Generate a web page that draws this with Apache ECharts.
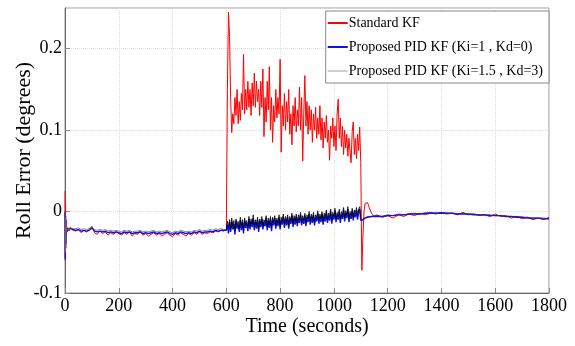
<!DOCTYPE html>
<html>
<head>
<meta charset="utf-8">
<script src="https://cdn.jsdelivr.net/npm/echarts@6/dist/echarts.min.js"></script>
<style>
  html, body { margin: 0; padding: 0; background: #fff; }
  #chart { width: 575px; height: 346px; }
</style>
</head>
<body>
<div id="chart"></div>
<script>
// sample times (seconds), split in three stretches
const timeA = [0, 1, 2, 3, 4, 5, 6, 8, 10, 15, 20, 25, 30, 40, 50, 60, 70, 80, 90, 100,
  110, 120, 130, 140, 150, 160, 170, 180, 190, 200,
  210, 220, 230, 240, 250, 260, 270, 280, 290, 300,
  310, 320, 330, 340, 350, 360, 370, 380, 390, 400,
  410, 420, 430, 440, 450, 460, 470, 480, 490, 500,
  510, 520, 530, 540, 550, 560, 570, 580, 590]
const timeB = [600, 604, 608, 612, 616, 620, 624, 628, 632, 636,
  640, 644, 648, 652, 656, 660, 664, 668, 672, 676,
  680, 684, 688, 692, 696, 700, 704, 708, 712, 716,
  720, 724, 728, 732, 736, 740, 744, 748, 752, 756,
  760, 764, 768, 772, 776, 780, 784, 788, 792, 796,
  800, 804, 808, 812, 816, 820, 824, 828, 832, 836,
  840, 844, 848, 852, 856, 860, 864, 868, 872, 876,
  880, 884, 888, 892, 896, 900, 904, 908, 912, 916,
  920, 924, 928, 932, 936, 940, 944, 948, 952, 956,
  960, 964, 968, 972, 976, 980, 984, 988, 992, 996,
  1000, 1004, 1008, 1012, 1016, 1020, 1024, 1028, 1032, 1036,
  1040, 1044, 1048, 1052, 1056, 1060, 1064, 1068, 1072, 1076,
  1080, 1084, 1088, 1092, 1096, 1100]
const timeC = [1104, 1108, 1112, 1116, 1120, 1125, 1130, 1140, 1150,
  1160, 1180, 1200, 1220, 1240, 1260, 1280, 1300, 1320, 1340,
  1360, 1380, 1400, 1420, 1440, 1460, 1480, 1500, 1520, 1540,
  1560, 1580, 1600, 1620, 1640, 1660, 1680, 1700, 1720, 1740,
  1760, 1780, 1800]

// Standard KF
const redA = [0.025, -0.060, 0.010, -0.045, -0.010, -0.030, -0.018, -0.025, -0.020, -0.024, -0.019, -0.022, -0.021, -0.024, -0.022, -0.026, -0.023, -0.025, -0.022, -0.018,
  -0.026, -0.028, -0.024, -0.027, -0.025, -0.029, -0.026, -0.028, -0.025, -0.027,
  -0.029, -0.026, -0.028, -0.025, -0.030, -0.027, -0.028, -0.024, -0.029, -0.027,
  -0.030, -0.028, -0.026, -0.029, -0.027, -0.030, -0.028, -0.026, -0.029, -0.031,
  -0.027, -0.029, -0.026, -0.028, -0.030, -0.027, -0.029, -0.026, -0.028, -0.025,
  -0.028, -0.026, -0.027, -0.025, -0.026, -0.024, -0.025, -0.023, -0.024]
const redB = [-0.022, 0.150, 0.245, 0.215, 0.140, 0.097, 0.120, 0.108, 0.140, 0.118,
  0.150, 0.108, 0.135, 0.112, 0.145, 0.125, 0.193, 0.120, 0.150, 0.125,
  0.160, 0.128, 0.150, 0.118, 0.158, 0.130, 0.170, 0.128, 0.160, 0.135,
  0.150, 0.118, 0.160, 0.128, 0.175, 0.092, 0.140, 0.110, 0.160, 0.125,
  0.178, 0.100, 0.140, 0.085, 0.130, 0.110, 0.150, 0.115, 0.140, 0.120,
  0.187, 0.073, 0.130, 0.105, 0.145, 0.100, 0.135, 0.110, 0.150, 0.095,
  0.120, 0.082, 0.130, 0.105, 0.140, 0.098, 0.125, 0.105, 0.153, 0.100,
  0.140, 0.062, 0.120, 0.167, 0.105, 0.135, 0.095, 0.130, 0.100, 0.125,
  0.085, 0.120, 0.100, 0.128, 0.090, 0.115, 0.095, 0.130, 0.088, 0.115,
  0.078, 0.110, 0.090, 0.118, 0.085, 0.100, 0.063, 0.105, 0.090, 0.115,
  0.080, 0.105, 0.075, 0.120, 0.138, 0.090, 0.115, 0.080, 0.105, 0.070,
  0.100, 0.078, 0.095, 0.068, 0.090, 0.075, 0.060, 0.098, 0.110, 0.070,
  0.090, 0.065, 0.095, 0.075, 0.104, 0.060]
const redC = [-0.072, -0.030, 0.000, 0.010, 0.012, 0.011, 0.006, -0.002, -0.006,
  -0.004, -0.007, -0.005, -0.008, -0.004, -0.006, -0.003, -0.005, -0.002, -0.004,
  -0.002, -0.003, -0.001, -0.003, -0.002, -0.004, -0.001, -0.004, -0.003, -0.005,
  -0.004, -0.006, -0.003, -0.006, -0.005, -0.008, -0.006, -0.009, -0.007, -0.010,
  -0.008, -0.010, -0.007]

// Proposed PID KF (Ki=1 , Kd=0)
const blueA = [0.000, -0.058, -0.005, -0.040, -0.015, -0.028, -0.020, -0.024, -0.021, -0.023, -0.021, -0.022, -0.022, -0.023, -0.022, -0.024, -0.023, -0.024, -0.023, -0.020,
  -0.024, -0.025, -0.024, -0.025, -0.024, -0.026, -0.025, -0.026, -0.025, -0.026,
  -0.027, -0.025, -0.026, -0.025, -0.027, -0.026, -0.026, -0.025, -0.027, -0.026,
  -0.027, -0.026, -0.025, -0.027, -0.026, -0.027, -0.026, -0.025, -0.027, -0.028,
  -0.026, -0.027, -0.025, -0.026, -0.027, -0.026, -0.027, -0.025, -0.026, -0.024,
  -0.026, -0.025, -0.025, -0.024, -0.025, -0.023, -0.024, -0.023, -0.023]
const blueB = [-0.023, -0.016, -0.027, -0.013, -0.025, -0.012, -0.022, -0.015, -0.028, -0.011,
  -0.021, -0.016, -0.025, -0.010, -0.023, -0.013, -0.027, -0.011, -0.020, -0.014,
  -0.024, -0.009, -0.022, -0.012, -0.019, -0.008, -0.023, -0.013, -0.021, -0.010,
  -0.025, -0.012, -0.019, -0.009, -0.022, -0.013, -0.018, -0.008, -0.023, -0.011,
  -0.020, -0.009, -0.024, -0.010, -0.017, -0.008, -0.021, -0.011, -0.018, -0.007,
  -0.022, -0.010, -0.016, -0.006, -0.020, -0.009, -0.017, -0.007, -0.021, -0.009,
  -0.015, -0.005, -0.019, -0.008, -0.016, -0.006, -0.018, -0.007, -0.014, -0.004,
  -0.017, -0.008, -0.015, -0.005, -0.018, -0.007, -0.013, -0.003, -0.016, -0.006,
  -0.014, -0.004, -0.017, -0.007, -0.012, -0.002, -0.015, -0.006, -0.013, -0.003,
  -0.016, -0.005, -0.012, -0.001, -0.014, -0.005, -0.011, 0.000, -0.015, -0.004,
  -0.010, 0.001, -0.013, -0.004, -0.010, 0.000, -0.014, -0.003, -0.009, 0.002,
  -0.012, -0.002, -0.008, 0.003, -0.013, -0.003, -0.009, 0.001, -0.011, -0.001,
  -0.007, 0.002, -0.010, 0.000, 0.003, -0.011]
const blueC = [-0.013, -0.010, -0.009, -0.008, -0.008, -0.007, -0.007, -0.006, -0.006,
  -0.006, -0.006, -0.005, -0.005, -0.004, -0.004, -0.003, -0.003, -0.003, -0.002,
  -0.002, -0.002, -0.002, -0.002, -0.002, -0.003, -0.003, -0.003, -0.004, -0.004,
  -0.004, -0.005, -0.005, -0.005, -0.006, -0.006, -0.007, -0.007, -0.008, -0.008,
  -0.008, -0.009, -0.009]

// Proposed PID KF (Ki=1.5 , Kd=3)
const blackA = [0.000, -0.050, -0.008, -0.035, -0.015, -0.025, -0.019, -0.022, -0.020, -0.021, -0.020, -0.020, -0.021, -0.021, -0.020, -0.022, -0.021, -0.022, -0.021, -0.019,
  -0.022, -0.023, -0.022, -0.023, -0.022, -0.024, -0.023, -0.024, -0.023, -0.024,
  -0.025, -0.023, -0.024, -0.023, -0.025, -0.024, -0.024, -0.023, -0.025, -0.024,
  -0.025, -0.024, -0.023, -0.025, -0.024, -0.025, -0.024, -0.023, -0.025, -0.026,
  -0.024, -0.025, -0.023, -0.024, -0.025, -0.024, -0.025, -0.023, -0.024, -0.022,
  -0.024, -0.023, -0.023, -0.022, -0.023, -0.021, -0.022, -0.021, -0.022]
const blackB = [-0.022, -0.012, -0.020, -0.010, -0.022, -0.008, -0.018, -0.011, -0.024, -0.009,
  -0.017, -0.012, -0.021, -0.007, -0.019, -0.010, -0.023, -0.008, -0.016, -0.011,
  -0.020, -0.006, -0.018, -0.009, -0.015, -0.004, -0.019, -0.010, -0.017, -0.007,
  -0.021, -0.009, -0.015, -0.006, -0.018, -0.010, -0.014, -0.005, -0.019, -0.008,
  -0.016, -0.006, -0.020, -0.007, -0.013, -0.005, -0.017, -0.008, -0.014, -0.004,
  -0.018, -0.007, -0.012, -0.003, -0.016, -0.006, -0.013, -0.004, -0.017, -0.006,
  -0.011, -0.002, -0.015, -0.005, -0.012, -0.003, -0.014, -0.004, -0.010, -0.001,
  -0.013, -0.005, -0.011, -0.002, -0.014, -0.004, -0.009, 0.000, -0.012, -0.003,
  -0.010, -0.001, -0.013, -0.004, -0.008, 0.001, -0.011, -0.003, -0.009, 0.000,
  -0.012, -0.002, -0.008, 0.002, -0.010, -0.002, -0.007, 0.003, -0.011, -0.001,
  -0.006, 0.004, -0.009, -0.001, -0.006, 0.003, -0.010, 0.000, -0.005, 0.005,
  -0.008, 0.001, -0.004, 0.006, -0.009, 0.000, -0.005, 0.004, -0.007, 0.002,
  -0.003, 0.005, -0.006, 0.003, 0.006, -0.008]
const blackC = [-0.011, -0.009, -0.008, -0.008, -0.007, -0.007, -0.006, -0.006, -0.005,
  -0.005, -0.006, -0.004, -0.005, -0.003, -0.004, -0.003, -0.002, -0.003, -0.002,
  -0.001, -0.002, -0.001, -0.002, -0.002, -0.003, -0.002, -0.003, -0.003, -0.004,
  -0.004, -0.004, -0.005, -0.005, -0.006, -0.006, -0.006, -0.007, -0.007, -0.008,
  -0.008, -0.008, -0.009]

const seriesNames = ['Standard KF', 'Proposed PID KF (Ki=1 , Kd=0)', 'Proposed PID KF (Ki=1.5 , Kd=3)']
const xTicks = [0, 200, 400, 600, 800, 1000, 1200, 1400, 1600, 1800]

const time = timeA.concat(timeB, timeC)

function zip(values) {
  return time.map((t, i) => [t, values[i]])
}

const font = 'Liberation Serif, Times New Roman, serif'

const chart = echarts.init(document.getElementById('chart'))
chart.setOption({
  animation: false,
  backgroundColor: '#fff',
  grid: {
    left: 65,
    right: 26,
    top: 8,
    bottom: 53,
    outerBoundsMode: 'none',
    containLabel: false,
    show: true,
    borderColor: '#9a9a9a',
    borderWidth: 1
  },
  legend: {
    orient: 'vertical',
    right: 26,
    top: 11,
    align: 'left',
    icon: 'rect',
    backgroundColor: '#fff',
    borderColor: '#888',
    borderWidth: 1,
    borderRadius: 0,
    padding: [3, 6, 3, 2],
    itemGap: 6,
    itemWidth: 20,
    itemHeight: 2,
    textStyle: { fontFamily: font, fontSize: 14, lineHeight: 18, color: '#000', padding: [0, 0, 0, -4] },
    data: [
      { name: seriesNames[0] },
      { name: seriesNames[1] },
      { name: seriesNames[2], itemStyle: { color: '#cfcfcf' } }
    ]
  },
  // black line reads as a thin dark trace outside the 600-1100 s window
  visualMap: {
    show: false,
    type: 'piecewise',
    seriesIndex: 2,
    dimension: 0,
    pieces: [
      { lt: 598, color: '#666' },
      { gte: 598, lte: 1102, color: '#000' },
      { gt: 1102, color: '#202080' }
    ]
  },
  xAxis: {
    type: 'value',
    min: 0,
    max: 1800,
    interval: 200,
    name: 'Time (seconds)',
    nameLocation: 'middle',
    nameGap: 24,
    nameMoveOverlap: false,
    nameTextStyle: { fontFamily: font, fontSize: 20, color: '#000' },
    axisLine: { onZero: false, lineStyle: { color: '#666' } },
    axisTick: { inside: true, length: 5, lineStyle: { color: '#888' } },
    axisLabel: {
      fontFamily: font, fontSize: 18, color: '#000', margin: 4,
      formatter: v => (xTicks.indexOf(v) >= 0 ? String(v) : '')
    },
    splitLine: { show: true, lineStyle: { color: '#dcdcdc', type: 'dotted' } }
  },
  yAxis: {
    type: 'value',
    min: -0.1,
    max: 0.25,
    interval: 0.1,
    name: 'Roll Error (degrees)',
    nameLocation: 'middle',
    nameGap: 30,
    nameMoveOverlap: false,
    nameTextStyle: { fontFamily: font, fontSize: 22, color: '#000' },
    axisLine: { show: true, onZero: false, lineStyle: { color: '#666' } },
    axisTick: { show: true, inside: true, length: 5, lineStyle: { color: '#888' } },
    axisLabel: {
      fontFamily: font, fontSize: 18, color: '#000', margin: 3,
      showMaxLabel: false,
      formatter: v => (Math.abs(v) < 1e-9 ? '0' : v.toFixed(1))
    },
    splitLine: { show: true, lineStyle: { color: '#dcdcdc', type: 'dotted' } }
  },
  series: [
    {
      name: seriesNames[0],
      type: 'line',
      data: zip(redA.concat(redB, redC)),
      symbol: 'none',
      color: '#ff0000',
      lineStyle: { color: '#ff0000', width: 1 },
      z: 2
    },
    {
      name: seriesNames[1],
      type: 'line',
      data: zip(blueA.concat(blueB, blueC)),
      symbol: 'none',
      color: '#1010ee',
      lineStyle: { color: '#1010ee', width: 1.4 },
      z: 3
    },
    {
      name: seriesNames[2],
      type: 'line',
      data: zip(blackA.concat(blackB, blackC)),
      symbol: 'none',
      color: '#000',
      lineStyle: { width: 0.8 },
      z: 4
    }
  ]
})
</script>
</body>
</html>
